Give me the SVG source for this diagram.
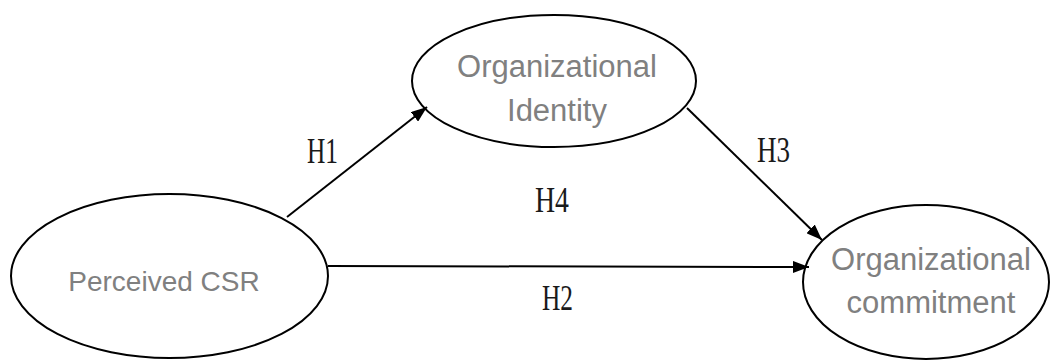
<svg xmlns="http://www.w3.org/2000/svg" width="1052" height="360" viewBox="0 0 1052 360">
<defs>
<marker id="arr" viewBox="0 0 16 12" refX="16" refY="6" markerWidth="16" markerHeight="12" markerUnits="userSpaceOnUse" orient="auto">
<path d="M0,0 L16,6 L0,12 z" fill="#000"/>
</marker>
<style>
.node{fill:#fff;stroke:#000;stroke-width:2}
.nt{font-family:"Liberation Sans",Arial,sans-serif;fill:#808080;text-anchor:middle}
.edge{stroke:#000;stroke-width:2;fill:none}
.lbl{font-family:"Liberation Serif","Times New Roman",serif;font-size:35px;fill:#1a1a1a}
</style>
</defs>
<rect width="1052" height="360" fill="#fff"/>
<g id="n-csr">
<ellipse class="node" cx="169.5" cy="276" rx="158.5" ry="82"/>
<text class="nt" x="164" y="291" font-size="28">Perceived CSR</text>
</g>
<g id="n-identity">
<ellipse class="node" cx="554" cy="81" rx="142" ry="66"/>
<text class="nt" x="557" y="77" font-size="31">Organizational</text>
<text class="nt" x="557" y="121" font-size="31">Identity</text>
</g>
<g id="n-commitment">
<ellipse class="node" cx="926" cy="282" rx="123" ry="77"/>
<text class="nt" x="931" y="270" font-size="31">Organizational</text>
<text class="nt" x="931" y="313" font-size="31">commitment</text>
</g>
<g id="connectors">
<line class="edge" x1="287" y1="217" x2="427" y2="107" marker-end="url(#arr)"/>
<line class="edge" x1="687" y1="108" x2="822" y2="240" marker-end="url(#arr)"/>
<line class="edge" x1="328" y1="266" x2="809" y2="267" marker-end="url(#arr)"/>
</g>
<g id="labels">
<text class="lbl" x="307" y="163" textLength="31" lengthAdjust="spacingAndGlyphs">H1</text>
<text class="lbl" x="535" y="212" textLength="34" lengthAdjust="spacingAndGlyphs">H4</text>
<text class="lbl" x="757" y="162" textLength="33" lengthAdjust="spacingAndGlyphs">H3</text>
<text class="lbl" x="542" y="310" textLength="31" lengthAdjust="spacingAndGlyphs">H2</text>
</g>
</svg>
